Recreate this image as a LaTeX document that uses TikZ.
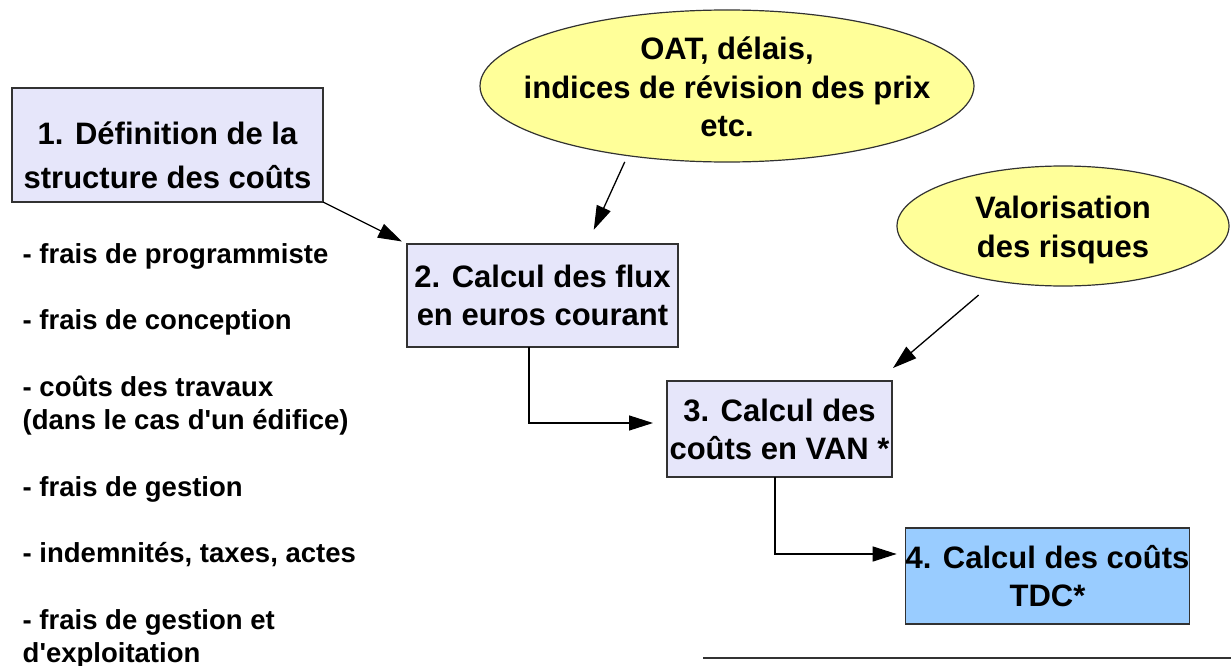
\documentclass[tikz,border=0pt]{standalone}
\usepackage{fontspec}
\setmainfont{Liberation Sans}[Ligatures=TeXOff]
\usetikzlibrary{arrows.meta,shapes.geometric,calc}
\definecolor{boxfill}{RGB}{230,230,250}
\definecolor{boxblue}{RGB}{153,204,255}
\definecolor{bubble}{RGB}{255,255,153}
\definecolor{edge}{RGB}{50,50,50}
\begin{document}
\begin{tikzpicture}[x=1pt,y=-1pt,
  stepbox/.style={draw=edge, line width=1.6pt, fill=boxfill, inner sep=0pt, outer sep=0pt,
    align=center, font=\bfseries\fontsize{31}{38}\selectfont},
  bubblenode/.style={ellipse, draw=edge, line width=1.2pt, fill=bubble, inner sep=0pt, outer sep=0pt},
  bigtext/.style={align=center, inner sep=0pt, font=\bfseries\fontsize{31}{38.5}\selectfont},
  itemtext/.style={anchor=base west, align=left, inner sep=0pt,
    font=\bfseries\fontsize{27.5}{33}\selectfont},
  arr/.style={draw=black, line width=1.3pt, -{Triangle[length=24pt,width=15pt]}},
]
\useasboundingbox (0,0) rectangle (1231,666);

% step boxes
\node[stepbox, minimum width=311pt, minimum height=114pt] (b1) at (167.5,145) {};
\node[bigtext, font=\bfseries\fontsize{31}{44}\selectfont] (b1txt) at (167.5,155)
  {1. Définition de la\\structure des coûts};
\node[stepbox, minimum width=271pt, minimum height=103pt] (b2) at (542.5,295.5)
  {2. Calcul des flux\\en euros courant};
\node[stepbox, minimum width=225pt, minimum height=96pt] (b3) at (779.5,429)
  {3. Calcul des\\coûts en VAN *};
\node[stepbox, fill=boxblue, minimum width=283pt, minimum height=96pt] (b4) at (1047.5,576)
  {4. Calcul des coûts\\TDC*};

% input bubbles
\node[bubblenode, minimum width=494pt, minimum height=152pt] (e1) at (727,86) {};
\node[bigtext] (e1txt) at (727,87) {OAT, délais,\\indices de révision des prix\\etc.};
\node[bubblenode, minimum width=332pt, minimum height=120pt] (e2) at (1063,226) {};
\node[bigtext] (e2txt) at (1063,230) {Valorisation\\des risques};

% cost items (base anchor sits on the last line)
\node[itemtext] (l1) at (22.5,263) {- frais de programmiste};
\node[itemtext] (l2) at (22.5,329) {- frais de conception};
\node[itemtext] (l3) at (22.5,429) {- coûts des travaux\\(dans le cas d'un édifice)};
\node[itemtext] (l4) at (22.5,496) {- frais de gestion};
\node[itemtext] (l5) at (22.5,562) {- indemnités, taxes, actes};
\node[itemtext] (l6) at (22.5,662) {- frais de gestion et\\d'exploitation};

% connectors
\coordinate (t3) at ($(b3.north east)+(1,-13)$);
\draw[arr, shorten >=5.6pt] (b1.south east) -- (b2.north west);
\draw[arr, shorten <=7pt, shorten >=15.6pt] (e1.215.3) -- (b2.49.8);
\draw[arr, shorten <=22pt] (e2.219.6) -- (t3);
\draw[arr, shorten >=14pt] ($(b2.south)+(-13.5,0)$) |- ($(b3.west)+(0,-6)$);
\draw[arr, shorten >=9pt] ($(b3.south)+(-4.5,0)$) |- ($(b4.west)+(0,-22)$);

% footnote rule
\draw[edge, line width=2pt] (703,658) -- (1231,658);
\end{tikzpicture}
\end{document}
